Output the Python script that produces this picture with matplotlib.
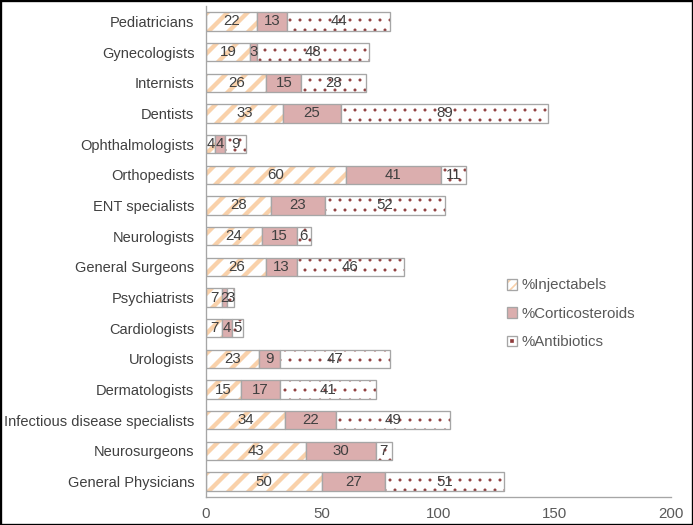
import matplotlib
matplotlib.use("Agg")
import matplotlib.pyplot as plt
from matplotlib.patches import Patch, Rectangle
from matplotlib.lines import Line2D
from matplotlib.legend_handler import HandlerTuple

categories = ["Pediatricians", "Gynecologists", "Internists", "Dentists", "Ophthalmologists",
              "Orthopedists", "ENT specialists", "Neurologists", "General Surgeons", "Psychiatrists",
              "Cardiologists", "Urologists", "Dermatologists", "Infectious disease specialists",
              "Neurosurgeons", "General Physicians"]
injectables = [22, 19, 26, 33, 4, 60, 28, 24, 26, 7, 7, 23, 15, 34, 43, 50]
corticosteroids = [13, 3, 15, 25, 4, 41, 23, 15, 13, 2, 4, 9, 17, 22, 30, 27]
antibiotics = [44, 48, 28, 89, 9, 11, 52, 6, 46, 3, 5, 47, 41, 49, 7, 51]
series_names = ["%Injectabels", "%Corticosteroids", "%Antibiotics"]
xticks = [0, 50, 100, 150, 200]

plt.rcParams['font.family'] = ['Liberation Sans', 'DejaVu Sans']

DPI = 120
fig = plt.figure(figsize=(693 / DPI, 525 / DPI), dpi=DPI)
ax = fig.add_axes([206 / 693, 1 - 497 / 525, (671 - 206) / 693, (497 - 6) / 525])

y = list(range(len(categories)))
H = 0.6
ORANGE = "#F9D1AA"
PINK = "#DBAEAE"
DOT = "#8E3B3B"
EDGE = "#A6A6A6"
TXT = "#404040"

with plt.rc_context({'hatch.linewidth': 2.6}):
    b1 = ax.barh(y, injectables, height=H, color="white", edgecolor=ORANGE, hatch="//", linewidth=0)
    for p in b1:
        if hasattr(p, "set_hatch_linewidth"):
            p.set_hatch_linewidth(2.6)
ax.barh(y, injectables, height=H, fill=False, edgecolor=EDGE, linewidth=0.8)

b2 = ax.barh(y, corticosteroids, left=injectables, height=H, color=PINK, edgecolor=EDGE, linewidth=0.8)

left3 = [a + b for a, b in zip(injectables, corticosteroids)]
with plt.rc_context({'hatch.linewidth': 0.6}):
    b3 = ax.barh(y, antibiotics, left=left3, height=H, color="white", edgecolor=DOT, hatch="..", linewidth=0)
    for p in b3:
        if hasattr(p, "set_hatch_linewidth"):
            p.set_hatch_linewidth(0.6)
ax.barh(y, antibiotics, left=left3, height=H, fill=False, edgecolor=EDGE, linewidth=0.8)

for bars, vals in ((b1, injectables), (b2, corticosteroids), (b3, antibiotics)):
    ax.bar_label(bars, labels=[str(v) for v in vals], label_type="center", color=TXT, fontsize=9)

ax.set_ylim(len(categories) - 0.5, -0.5)
ax.set_xlim(0, 200)
ax.set_yticks(y)
ax.set_yticklabels(categories)
ax.set_xticks(xticks)
ax.tick_params(axis="both", length=0, colors="#595959", labelsize=8.8)
ax.tick_params(axis="y", pad=7, labelcolor="#404040")
ax.tick_params(axis="x", pad=6, labelsize=9)
for s in ("top", "right"):
    ax.spines[s].set_visible(False)
for s in ("left", "bottom"):
    ax.spines[s].set_color("#A6A6A6")
    ax.spines[s].set_linewidth(0.8)

with plt.rc_context({'hatch.linewidth': 1.2}):
    h1a = Patch(facecolor="white", edgecolor=ORANGE, hatch="////", linewidth=0)
h1b = Patch(fill=False, edgecolor=EDGE, linewidth=0.8)
h2 = Patch(facecolor=PINK, edgecolor=EDGE, linewidth=0.8)
h3a = Line2D([], [], linestyle="none", marker="s", markersize=1.2, color=DOT)
h3b = Patch(fill=False, edgecolor=EDGE, linewidth=0.8)

leg = fig.legend([(h1a, h1b), h2, (h3b, h3a)], series_names,
                 handler_map={tuple: HandlerTuple(ndivide=1)},
                 loc="upper left", bbox_to_anchor=(499 / 693, 1 - 271 / 525),
                 frameon=False, fontsize=9, handlelength=0.7, handleheight=0.7,
                 handletextpad=0.3, labelspacing=0.95, borderpad=0)
for t in leg.get_texts():
    t.set_color("#595959")

fig.patches.append(Rectangle((0, 0), 1, 1, transform=fig.transFigure, fill=False,
                             edgecolor="black", linewidth=2.0))

fig.savefig("out.png", dpi=DPI)
